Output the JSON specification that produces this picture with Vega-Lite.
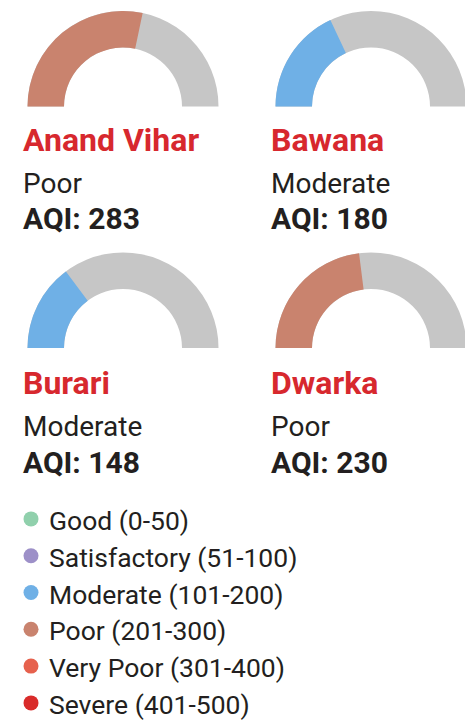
{
  "$schema": "https://vega.github.io/schema/vega-lite/v6.json",
  "background": "white",
  "padding": {"left": 3, "top": 0, "right": 0, "bottom": 0},
  "spacing": 18.5,
  "config": {"view": {"stroke": null}, "font": "Roboto", "concat": {"spacing": 8}},
  "datasets": {
    "stations": [
      {"station": "Anand Vihar", "status": "Poor", "aqi": 283},
      {"station": "Bawana", "status": "Moderate", "aqi": 180},
      {"station": "Burari", "status": "Moderate", "aqi": 148},
      {"station": "Dwarka", "status": "Poor", "aqi": 230}
    ],
    "bands": [
      {"status": "Good", "label": "Good (0-50)"},
      {"status": "Satisfactory", "label": "Satisfactory (51-100)"},
      {"status": "Moderate", "label": "Moderate (101-200)"},
      {"status": "Poor", "label": "Poor (201-300)"},
      {"status": "Very Poor", "label": "Very Poor (301-400)"},
      {"status": "Severe", "label": "Severe (401-500)"}
    ]
  },
  "vconcat": [
    {"spacing": 1.5, "vconcat": [
    {"hconcat": [
      {
        "data": {"name": "stations"},
        "transform": [{"filter": "datum.station == 'Anand Vihar'"}],
        "width": 240, "height": 240,
        "layer": [
          {"mark": {"type": "arc", "radius": 95.5, "radius2": 59, "color": "#c6c6c6", "theta": -1.5708, "theta2": 1.5708},
           "encoding": {"y": {"datum": 0, "type": "quantitative", "axis": null, "scale": {"domain": [-2.566, 3.217], "reverse": true, "nice": false, "zero": false}}}},
          {"mark": {"type": "arc", "radius": 95.5, "radius2": 59},
           "encoding": {"y": {"datum": 0, "type": "quantitative"},
             "theta": {"field": "aqi", "type": "quantitative", "scale": {"domain": [0, 500], "range": [-1.5708, 1.5708]}},
             "color": {"field": "status", "type": "nominal", "legend": null, "scale": {"domain": ["Good", "Satisfactory", "Moderate", "Poor", "Very Poor", "Severe"], "range": ["#90d0ac", "#9d90c8", "#6fb0e6", "#c9836e", "#e6614d", "#d92b2a"]}}}},
          {"mark": {"type": "text", "align": "left", "baseline": "alphabetic", "dx": -100, "dy": 3, "fontSize": 32, "fontWeight": "bold", "color": "#d7282e"},
           "encoding": {"y": {"datum": 1, "type": "quantitative"}, "text": {"field": "station"}}},
          {"mark": {"type": "text", "align": "left", "baseline": "alphabetic", "dx": -100, "dy": 4, "fontSize": 28, "color": "#231f20"},
           "encoding": {"y": {"datum": 2, "type": "quantitative"}, "text": {"field": "status"}}},
          {"mark": {"type": "text", "align": "left", "baseline": "alphabetic", "dx": -100, "dy": -2, "fontSize": 30, "fontWeight": "bold", "color": "#231f20", "text": {"expr": "'AQI: ' + datum.aqi"}},
           "encoding": {"y": {"datum": 3, "type": "quantitative"}}}
        ]
      },
      {
        "data": {"name": "stations"},
        "transform": [{"filter": "datum.station == 'Bawana'"}],
        "width": 240, "height": 240,
        "layer": [
          {"mark": {"type": "arc", "radius": 95.5, "radius2": 59, "color": "#c6c6c6", "theta": -1.5708, "theta2": 1.5708},
           "encoding": {"y": {"datum": 0, "type": "quantitative", "axis": null, "scale": {"domain": [-2.566, 3.217], "reverse": true, "nice": false, "zero": false}}}},
          {"mark": {"type": "arc", "radius": 95.5, "radius2": 59},
           "encoding": {"y": {"datum": 0, "type": "quantitative"},
             "theta": {"field": "aqi", "type": "quantitative", "scale": {"domain": [0, 500], "range": [-1.5708, 1.5708]}},
             "color": {"field": "status", "type": "nominal", "legend": null, "scale": {"domain": ["Good", "Satisfactory", "Moderate", "Poor", "Very Poor", "Severe"], "range": ["#90d0ac", "#9d90c8", "#6fb0e6", "#c9836e", "#e6614d", "#d92b2a"]}}}},
          {"mark": {"type": "text", "align": "left", "baseline": "alphabetic", "dx": -100, "dy": 3, "fontSize": 32, "fontWeight": "bold", "color": "#d7282e"},
           "encoding": {"y": {"datum": 1, "type": "quantitative"}, "text": {"field": "station"}}},
          {"mark": {"type": "text", "align": "left", "baseline": "alphabetic", "dx": -100, "dy": 4, "fontSize": 28, "color": "#231f20"},
           "encoding": {"y": {"datum": 2, "type": "quantitative"}, "text": {"field": "status"}}},
          {"mark": {"type": "text", "align": "left", "baseline": "alphabetic", "dx": -100, "dy": -2, "fontSize": 30, "fontWeight": "bold", "color": "#231f20", "text": {"expr": "'AQI: ' + datum.aqi"}},
           "encoding": {"y": {"datum": 3, "type": "quantitative"}}}
        ]
      }
    ]},
    {"hconcat": [
      {
        "data": {"name": "stations"},
        "transform": [{"filter": "datum.station == 'Burari'"}],
        "width": 240, "height": 240,
        "layer": [
          {"mark": {"type": "arc", "radius": 95.5, "radius2": 59, "color": "#c6c6c6", "theta": -1.5708, "theta2": 1.5708},
           "encoding": {"y": {"datum": 0, "type": "quantitative", "axis": null, "scale": {"domain": [-2.566, 3.217], "reverse": true, "nice": false, "zero": false}}}},
          {"mark": {"type": "arc", "radius": 95.5, "radius2": 59},
           "encoding": {"y": {"datum": 0, "type": "quantitative"},
             "theta": {"field": "aqi", "type": "quantitative", "scale": {"domain": [0, 500], "range": [-1.5708, 1.5708]}},
             "color": {"field": "status", "type": "nominal", "legend": null, "scale": {"domain": ["Good", "Satisfactory", "Moderate", "Poor", "Very Poor", "Severe"], "range": ["#90d0ac", "#9d90c8", "#6fb0e6", "#c9836e", "#e6614d", "#d92b2a"]}}}},
          {"mark": {"type": "text", "align": "left", "baseline": "alphabetic", "dx": -100, "dy": 5, "fontSize": 32, "fontWeight": "bold", "color": "#d7282e"},
           "encoding": {"y": {"datum": 1, "type": "quantitative"}, "text": {"field": "station"}}},
          {"mark": {"type": "text", "align": "left", "baseline": "alphabetic", "dx": -100, "dy": 5, "fontSize": 28, "color": "#231f20"},
           "encoding": {"y": {"datum": 2, "type": "quantitative"}, "text": {"field": "status"}}},
          {"mark": {"type": "text", "align": "left", "baseline": "alphabetic", "dx": -100, "dy": 1, "fontSize": 30, "fontWeight": "bold", "color": "#231f20", "text": {"expr": "'AQI: ' + datum.aqi"}},
           "encoding": {"y": {"datum": 3, "type": "quantitative"}}}
        ]
      },
      {
        "data": {"name": "stations"},
        "transform": [{"filter": "datum.station == 'Dwarka'"}],
        "width": 240, "height": 240,
        "layer": [
          {"mark": {"type": "arc", "radius": 95.5, "radius2": 59, "color": "#c6c6c6", "theta": -1.5708, "theta2": 1.5708},
           "encoding": {"y": {"datum": 0, "type": "quantitative", "axis": null, "scale": {"domain": [-2.566, 3.217], "reverse": true, "nice": false, "zero": false}}}},
          {"mark": {"type": "arc", "radius": 95.5, "radius2": 59},
           "encoding": {"y": {"datum": 0, "type": "quantitative"},
             "theta": {"field": "aqi", "type": "quantitative", "scale": {"domain": [0, 500], "range": [-1.5708, 1.5708]}},
             "color": {"field": "status", "type": "nominal", "legend": null, "scale": {"domain": ["Good", "Satisfactory", "Moderate", "Poor", "Very Poor", "Severe"], "range": ["#90d0ac", "#9d90c8", "#6fb0e6", "#c9836e", "#e6614d", "#d92b2a"]}}}},
          {"mark": {"type": "text", "align": "left", "baseline": "alphabetic", "dx": -100, "dy": 5, "fontSize": 32, "fontWeight": "bold", "color": "#d7282e"},
           "encoding": {"y": {"datum": 1, "type": "quantitative"}, "text": {"field": "station"}}},
          {"mark": {"type": "text", "align": "left", "baseline": "alphabetic", "dx": -100, "dy": 5, "fontSize": 28, "color": "#231f20"},
           "encoding": {"y": {"datum": 2, "type": "quantitative"}, "text": {"field": "status"}}},
          {"mark": {"type": "text", "align": "left", "baseline": "alphabetic", "dx": -100, "dy": 1, "fontSize": 30, "fontWeight": "bold", "color": "#231f20", "text": {"expr": "'AQI: ' + datum.aqi"}},
           "encoding": {"y": {"datum": 3, "type": "quantitative"}}}
        ]
      }
    ]}
    ]},
    {
      "width": 56,
      "height": {"step": 36.8},
      "data": {"name": "bands"},
      "encoding": {"y": {"field": "label", "type": "nominal", "sort": null, "axis": null}},
      "layer": [
        {"mark": {"type": "circle", "size": 225, "opacity": 1},
         "encoding": {"color": {"field": "status", "type": "nominal", "legend": null, "scale": {"domain": ["Good", "Satisfactory", "Moderate", "Poor", "Very Poor", "Severe"], "range": ["#90d0ac", "#9d90c8", "#6fb0e6", "#c9836e", "#e6614d", "#d92b2a"]}}}},
        {"mark": {"type": "text", "align": "left", "baseline": "middle", "dx": 18, "dy": 3, "fontSize": 26.5, "color": "#231f20"},
         "encoding": {"text": {"field": "label"}}}
      ]
    }
  ]
}
